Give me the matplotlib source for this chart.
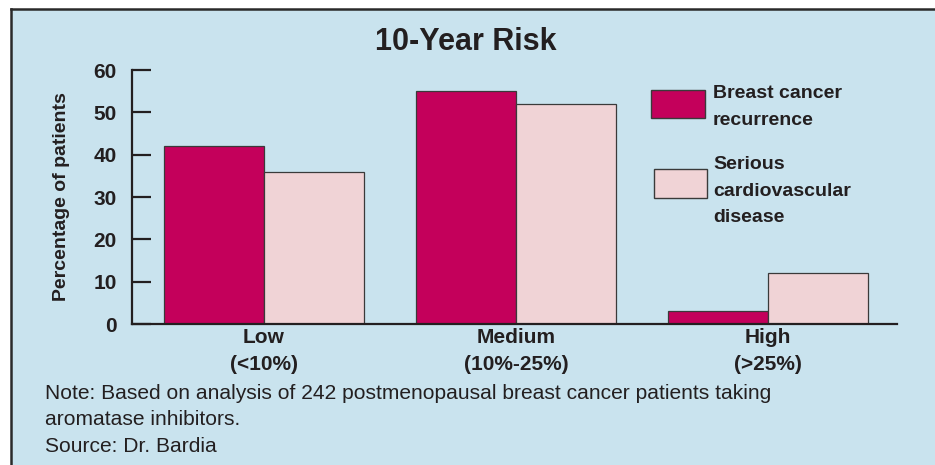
import numpy as np
import matplotlib
matplotlib.use("Agg")
import matplotlib.pyplot as plt
from matplotlib.patches import Rectangle
from matplotlib import font_manager

categories = ["Low\n(<10%)", "Medium\n(10%-25%)", "High\n(>25%)"]
breast_cancer = [42, 55, 3]
cardio = [36, 52, 12]
series_names = ["Breast cancer\nrecurrence", "Serious\ncardiovascular\ndisease"]
title = "10-Year Risk"
ylabel = "Percentage of patients"
notes = ["Note: Based on analysis of 242 postmenopausal breast cancer patients taking",
         "aromatase inhibitors.",
         "Source: Dr. Bardia"]

names = {f.name for f in font_manager.fontManager.ttflist}
narrow = "Liberation Sans Narrow" if "Liberation Sans Narrow" in names else "Liberation Sans"

bg = "#c9e3ee"
crimson = "#c4005b"
pink = "#f0d3d6"
ink = "#231f20"

fig = plt.figure(figsize=(9.35, 4.65), dpi=100)
fig.patch.set_facecolor("white")
# panel background with dark frame on top and left
fig.patches.append(Rectangle((11 / 935, 0), 1, 1 - 9 / 465, transform=fig.transFigure,
                             facecolor=bg, edgecolor="none", zorder=-10))
fig.add_artist(plt.Line2D([11 / 935, 11 / 935], [0, 1 - 9 / 465], color="#2a2a2a", lw=1.8,
                          transform=fig.transFigure))
fig.add_artist(plt.Line2D([11 / 935, 1], [1 - 9 / 465, 1 - 9 / 465], color="#2a2a2a", lw=1.8,
                          transform=fig.transFigure))

ax = fig.add_axes([132 / 935, 141 / 465, 765 / 935, 254 / 465])
ax.set_zorder(5)
ax.set_facecolor("none")

x = np.arange(len(categories))
w = 0.397
ax.bar(x - w / 2, breast_cancer, w, color=crimson, edgecolor="#3a3a3a", linewidth=0.9, zorder=2)
ax.bar(x + w / 2, cardio, w, color=pink, edgecolor="#3a3a3a", linewidth=0.9, zorder=2)

ax.set_xlim(-0.524, 2.512)
ax.set_ylim(0, 60)
ax.set_yticks([0, 10, 20, 30, 40, 50, 60])
ax.set_xticks(x)
ax.set_xticklabels(categories, fontfamily=narrow, fontweight="bold", fontsize=15,
                   color=ink, linespacing=1.5)
for s in ["top", "right"]:
    ax.spines[s].set_visible(False)
ax.spines["left"].set_linewidth(1.6)
ax.spines["bottom"].set_linewidth(1.6)
ax.spines["left"].set_color(ink)
ax.spines["bottom"].set_color(ink)
ax.tick_params(axis="y", direction="in", length=14, width=1.6, color=ink, pad=11,
               labelsize=15, labelcolor=ink)
ax.tick_params(axis="x", length=0, pad=3)
for lab in ax.get_yticklabels():
    lab.set_fontfamily(narrow)
    lab.set_fontweight("bold")

ax.set_ylabel(ylabel, fontfamily="Liberation Sans", fontweight="bold", fontsize=14,
              color=ink, labelpad=17)

fig.text(466 / 935, 1 - 42 / 465, title, ha="center", va="center", fontfamily=narrow,
         fontweight="bold", fontsize=22, color=ink)

# legend
fig.patches.append(Rectangle((651 / 935, 1 - 118 / 465), 54 / 935, 28 / 465,
                             transform=fig.transFigure, facecolor=crimson,
                             edgecolor="#3a3a3a", lw=1.0))
fig.patches.append(Rectangle((654 / 935, 1 - 198 / 465), 53 / 935, 29 / 465,
                             transform=fig.transFigure, facecolor=pink,
                             edgecolor="#3a3a3a", lw=1.0))
fig.text(713 / 935, 1 - 85 / 465, series_names[0], ha="left", va="top", fontfamily=narrow,
         fontweight="bold", fontsize=14, color=ink, linespacing=1.75)
fig.text(713 / 935, 1 - 156 / 465, series_names[1], ha="left", va="top", fontfamily=narrow,
         fontweight="bold", fontsize=14, color=ink, linespacing=1.75)

for i, line in enumerate(notes):
    fig.text(45 / 935, 1 - (393 + 26.5 * i) / 465, line, ha="left", va="center",
             fontfamily=narrow, fontsize=15.1, color=ink)

fig.savefig("out.png", dpi=100, facecolor=fig.get_facecolor())
